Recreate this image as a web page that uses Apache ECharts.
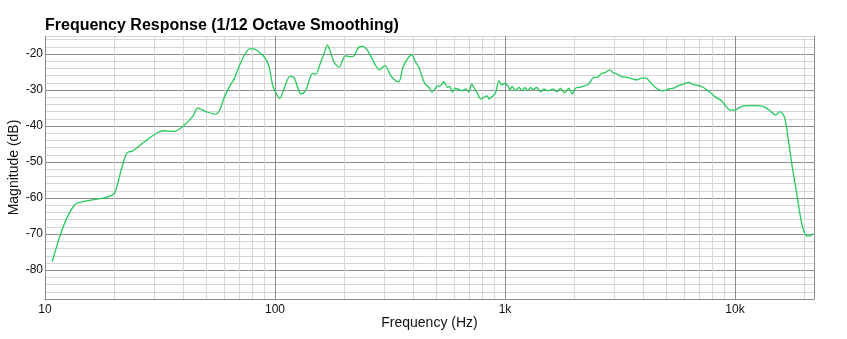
<!DOCTYPE html>
<html>
<head>
<meta charset="utf-8">
<script src="https://cdn.jsdelivr.net/npm/echarts@6/dist/echarts.min.js"></script>
<style>
  html, body { margin: 0; padding: 0; background: #fff; }
  #chart { width: 847px; height: 339px; }
</style>
</head>
<body>
<div id="chart"></div>
<script>
// Measured response, 1/12 octave smoothed: frequency (Hz) and magnitude (dB)
const freqHz = [
  10.75, 11.95, 13.43, 14.84, 18.44, 20.04, 21.4, 22.66, 24.06, 27.0,
  30.9, 33.0, 36.5, 39.6, 43.8, 46.1, 50.1, 55.0, 57.3, 60.2,
  64.4, 66.5, 71.1, 77.3, 80.4, 89.7, 94.4, 98, 105, 109.6,
  116, 121, 129.6, 136, 145.5, 150.5, 158, 163.6, 169, 175,
  180.7, 190, 202, 213.6, 220.8, 230.5, 240, 252, 265, 283.5,
  301, 318.6, 335, 346, 360, 376, 393, 409, 422.8, 434.3,
  449, 467.4, 480.2, 496.2, 507.7, 520, 542.9, 561, 574.6, 589.8,
  610.2, 630.7, 651.8, 674.4, 697, 716.1, 732.7, 757.4, 783.4, 809.8,
  836.9, 851.3, 879.8, 910.3, 940.8, 966.5, 999.1, 1032.5, 1050.2, 1074.7,
  1111.7, 1149.2, 1187.7, 1220.1, 1257.2, 1291.6, 1325.6, 1371.5, 1427.5, 1475.3,
  1535.6, 1619.1, 1685.3, 1743.3, 1814.6, 1894.5, 1958, 2025.8, 2129.6, 2200.9,
  2313.6, 2432.2, 2513.6, 2627.2, 2734, 2845.8, 2941.1, 3070.5, 3228, 3393.7,
  3567.6, 3749.8, 3918.8, 4103.4, 4288.1, 4507.8, 4692.5, 4897, 5148.4, 5412.7,
  5689.6, 5981, 6287.6, 6610.6, 6950.1, 7305, 7549.6, 7812, 8210, 8772,
  9541, 10030, 10345, 10900, 11845, 12880, 13540, 14230, 14960, 15735,
  16420, 16810, 17660, 18570, 19520, 20520, 21230, 21790
];
const magnitudeDb = [
  -77.6, -68.2, -61.9, -60.9, -59.8, -58.6, -52.4, -47.5, -46.9, -44.4,
  -41.8, -41.3, -41.5, -40.2, -37.4, -35.0, -36.0, -36.7, -35.75, -32.0,
  -28.3, -26.9, -22.3, -18.6, -18.6, -20.75, -23.7, -29.0, -32.4, -29.5,
  -26.2, -26.5, -31.1, -30.2, -25.4, -25.6, -22.3, -19.8, -17.5, -19.8,
  -22.3, -23.7, -20.5, -20.75, -20.5, -18.2, -17.9, -18.9, -21.4, -24.4,
  -23.25, -26.0, -27.4, -27.7, -23.7, -21.4, -20.2, -22.3, -23.7, -26.0,
  -28.3, -29.3, -30.5, -29.7, -28.8, -29.0, -27.7, -29.3, -29.0, -30.5,
  -29.5, -29.9, -30.2, -29.7, -30.5, -28.3, -29.3, -30.8, -32.5, -32.0,
  -31.6, -32.5, -31.8, -30.7, -27.4, -28.6, -28.1, -29.0, -29.9, -29.0,
  -30.2, -29.3, -30.2, -29.3, -30.2, -29.3, -29.9, -29.3, -30.5, -29.7,
  -30.2, -29.7, -30.5, -29.5, -30.8, -29.5, -31.1, -29.5, -29.2, -28.9,
  -28.3, -26.5, -26.5, -25.4, -25.1, -24.4, -25.1, -25.6, -26.3, -26.5,
  -26.9, -27.2, -26.7, -26.7, -27.9, -29.3, -30.0, -30.2, -29.7, -29.45,
  -28.8, -28.3, -27.9, -28.5, -28.8, -29.3, -30.0, -30.7, -31.9, -33.1,
  -35.6, -35.6, -35.0, -34.4, -34.3, -34.4, -34.8, -35.8, -36.9, -36.0,
  -37.6, -41.0, -50.6, -58.9, -67.2, -70.5, -70.5, -69.8
];

// Grid lines between decades (2..9 x 10^n)
const minorFreqLines = [
  20, 30, 40, 50, 60, 70, 80, 90,
  200, 300, 400, 500, 600, 700, 800, 900,
  2000, 3000, 4000, 5000, 6000, 7000, 8000, 9000,
  20000
];
const xTickLabels = { 10: '10', 100: '100', 1000: '1k', 10000: '10k' };
const yMajorStep = 10;

const chart = echarts.init(document.getElementById('chart'), null, { renderer: 'canvas' });

const MAJOR = '#8c8c8c';
const MINOR = '#d7d7d7';
const FONT = 'Liberation Sans, Arial, sans-serif';

chart.setOption({
  animation: false,
  backgroundColor: '#ffffff',
  title: {
    text: 'Frequency Response (1/12 Octave Smoothing)',
    left: 45,
    top: 18,
    padding: 0,
    textStyle: { fontFamily: FONT, fontSize: 16, fontWeight: 'bold', color: '#000' }
  },
  grid: {
    left: 45, right: 33, top: 36, bottom: 40,
    containLabel: false,
    outerBoundsMode: 'none'
  },
  xAxis: {
    type: 'log',
    logBase: 10,
    min: 10,
    max: 22050,
    name: 'Frequency (Hz)',
    nameLocation: 'middle',
    nameGap: 17,
    nameMoveOverlap: false,
    nameTextStyle: { fontFamily: FONT, fontSize: 14, color: '#111' },
    axisLine: { show: true, lineStyle: { color: MAJOR, width: 1 } },
    axisTick: { show: false },
    axisLabel: {
      margin: 5,
      fontFamily: FONT,
      fontSize: 12,
      color: '#111',
      formatter: v => xTickLabels[Math.round(v)] || ''
    },
    splitLine: { show: true, lineStyle: { color: MAJOR, width: 1 } },
    minorTick: { show: false },
    minorSplitLine: { show: false }
  },
  yAxis: {
    type: 'value',
    min: -88,
    max: -15,
    interval: 2,
    name: 'Magnitude (dB)',
    nameLocation: 'middle',
    nameGap: 24,
    nameRotate: 90,
    nameMoveOverlap: false,
    nameTextStyle: { fontFamily: FONT, fontSize: 14, color: '#111' },
    axisLine: { show: true, lineStyle: { color: MAJOR, width: 1 } },
    axisTick: { show: false },
    axisLabel: {
      margin: 2,
      fontFamily: FONT,
      fontSize: 12,
      color: '#111',
      formatter: v => (Math.round(v) % yMajorStep === 0 ? String(Math.round(v)) : '')
    },
    splitLine: {
      show: true,
      lineStyle: { color: [MINOR, MINOR, MINOR, MINOR, MAJOR], width: 1 }
    }
  },
  series: [
    {
      // light vertical lines between decades
      type: 'line',
      data: [],
      silent: true,
      z: 1,
      markLine: {
        silent: true,
        symbol: ['none', 'none'],
        label: { show: false },
        lineStyle: { color: MINOR, width: 1, type: 'solid' },
        data: minorFreqLines.map(f => ({ xAxis: f }))
      }
    },
    {
      type: 'line',
      data: freqHz.map((f, i) => [f, magnitudeDb[i]]),
      showSymbol: false,
      smooth: 0.25,
      z: 5,
      lineStyle: { color: '#25c95a', width: 1.3 }
    }
  ]
});
</script>
</body>
</html>
